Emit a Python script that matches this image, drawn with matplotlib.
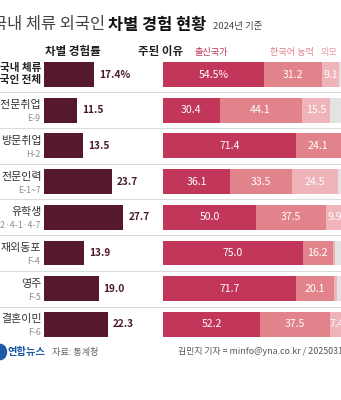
import matplotlib
matplotlib.use("Agg")
import matplotlib.pyplot as plt
from matplotlib.patches import Circle

plt.rcParams['font.family'] = ['Noto Sans CJK KR', 'DejaVu Sans']

# ---- data ----
groups = ["국내 체류\n외국인 전체", "비전문취업", "방문취업", "전문인력", "유학생",
          "재외동포", "영주", "결혼이민"]
codes = ["", "E-9", "H-2", "E-1~7", "D-2·4-1·4-7", "F-4", "F-5", "F-6"]
rate = [17.4, 11.5, 13.5, 23.7, 27.7, 13.9, 19.0, 22.3]
origin = [54.5, 30.4, 71.4, 36.1, 50.0, 75.0, 71.7, 52.2]
korean = [31.2, 44.1, 24.1, 33.5, 37.5, 16.2, 20.1, 37.5]
looks = [9.1, 15.5, 2.5, 24.5, 9.9, 1.5, 2.0, 7.4]
other = [5.2, 10.0, 2.0, 5.9, 2.6, 7.3, 6.2, 2.9]
reason_names = ["출신국가", "한국어 능력", "외모"]

W, H = 341, 400
fig = plt.figure(figsize=(W / 100, H / 100), dpi=100)
fig.patch.set_facecolor("white")

def fx(x):
    return x / W

def fy(y):
    return 1 - y / H

n = len(groups)
pitch = 35.7
top = 74.5 - pitch / 2
height = pitch * n
bottom_f = 1 - (top + height) / H
h_f = height / H

C_DARK = "#56192b"
C1, C2, C3, C4 = "#c2365a", "#e2828a", "#eeb4ba", "#e4e2e2"

# background separators
bg = fig.add_axes([0, bottom_f, 1, h_f])
bg.set_xlim(0, 1)
bg.set_ylim(n - 0.5, -0.5)
bg.axis("off")
for k in range(n - 1):
    bg.axhline(k + 0.5, color="#dcdcdc", lw=0.8)

# left: discrimination rate
axL = fig.add_axes([fx(44), bottom_f, fx(116), h_f])
axL.set_xlim(0, 116 / 2.87)
axL.set_ylim(n - 0.5, -0.5)
axL.axis("off")
ys = list(range(n))
axL.barh(ys, rate, height=0.7, color=C_DARK)
for i, v in enumerate(rate):
    lab = f"{v:.1f}%" if i == 0 else f"{v:.1f}"
    axL.annotate(lab, (v, i), xytext=(3.6, 0), textcoords="offset points",
                 ha="left", va="center", fontsize=7.3, fontweight="bold",
                 color="#4a1a2a")

# row labels
for i, (g, c) in enumerate(zip(groups, codes)):
    yc = 74.5 + i * pitch
    if i == 0:
        fig.text(fx(41.5), fy(yc), g, ha="right", va="center", fontsize=7.6,
                 fontweight="bold", color="#222222", linespacing=1.25)
    else:
        fig.text(fx(41.5), fy(yc - 5), g, ha="right", va="center", fontsize=7.9,
                 color="#333333")
        fig.text(fx(40.5), fy(yc + 8.5), c, ha="right", va="center", fontsize=6.3,
                 color="#8a8a8a")

# right: main reasons (stacked)
axR = fig.add_axes([fx(163), bottom_f, fx(186), h_f])
axR.set_xlim(0, 100)
axR.set_ylim(n - 0.5, -0.5)
axR.axis("off")
left = [0] * n
for vals, col in [(origin, C1), (korean, C2), (looks, C3), (other, C4)]:
    axR.barh(ys, vals, left=left, height=0.7, color=col)
    if col != C4:
        for i, v in enumerate(vals):
            if v >= 5:
                lab = f"{v:.1f}%" if (i == 0 and col == C1) else f"{v:.1f}"
                axR.text(left[i] + v / 2, i, lab, ha="center", va="center",
                         fontsize=7.6, color="white")
    left = [a + b for a, b in zip(left, vals)]

# title
fig.text(fx(105), fy(25), "국내 체류 외국인", ha="right", va="center",
         fontsize=11.8, fontweight="light", color="#444444")
fig.text(fx(108), fy(25), "차별 경험 현황", ha="left", va="center",
         fontsize=11.8, fontweight="bold", color="#111111")
fig.text(fx(213), fy(26), "2024년 기준", ha="left", va="center",
         fontsize=6.8, color="#444444")

# headers
fig.text(fx(45), fy(52), "차별 경험률", ha="left", va="center", fontsize=8.3,
         fontweight="bold", color="#222222")
fig.text(fx(138), fy(52), "주된 이유", ha="left", va="center", fontsize=8.3,
         fontweight="bold", color="#222222")
fig.text(fx(194), fy(52.5), reason_names[0], ha="left", va="center", fontsize=6.6,
         color=C1)
fig.text(fx(270), fy(52.5), reason_names[1], ha="left", va="center", fontsize=6.6,
         color=C2)
fig.text(fx(321), fy(52.5), reason_names[2], ha="left", va="center", fontsize=6.6,
         color="#e8a0a7")

# footer
circ = Circle((fx(0), fy(352)), radius=6.5 / W, transform=fig.transFigure,
              color="#1f5aa8", zorder=5)
fig.patches.append(circ)
fig.text(fx(7), fy(352), "연합뉴스", ha="left", va="center", fontsize=7.4,
         fontweight="bold", color="#1f5aa8")
fig.text(fx(52), fy(352), "자료: 통계청", ha="left", va="center", fontsize=6.6,
         color="#666666")
fig.text(fx(178), fy(352), "김민지 기자 = minfo@yna.co.kr / 20250311", ha="left",
         va="center", fontsize=6.4, color="#555555")

fig.savefig("out.png", dpi=100, facecolor="white")
